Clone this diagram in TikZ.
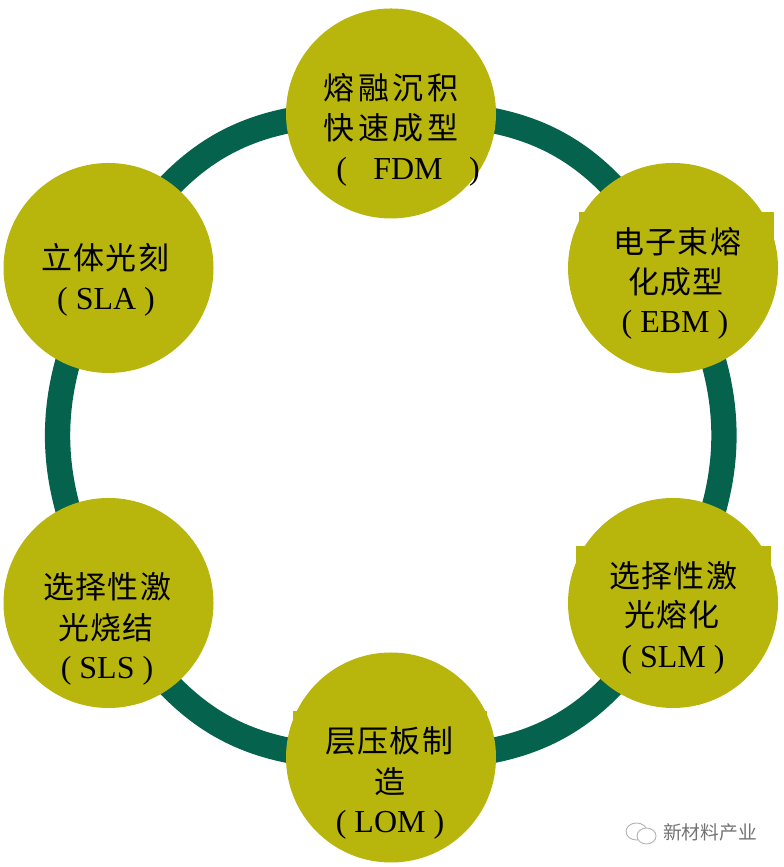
\documentclass[tikz,border=0pt]{standalone}
\usepackage{fontspec}
\setmainfont{Liberation Serif}
\newfontfamily\cjk[LetterSpace=12]{Noto Sans CJK SC}
\newfontfamily\cjknarrow[LetterSpace=4.5]{Noto Sans CJK SC}
\newfontfamily\cjkmark{Noto Sans CJK SC}
\usepackage{tikz}
\usetikzlibrary{backgrounds}
\definecolor{olivefill}{HTML}{B8B50C}
\definecolor{ringgreen}{HTML}{05634D}
\newcommand{\cn}[1]{{\cjk\fontsize{8.8pt}{10pt}\selectfont #1}}
\newcommand{\cnn}[1]{{\cjknarrow\fontsize{8.8pt}{10pt}\selectfont #1}}
\begin{document}
\begin{tikzpicture}[x=1cm,y=1cm,
	roundnode/.style={circle,fill=olivefill,minimum size=2.1cm,inner sep=0pt},
	labelnode/.style={rectangle,inner sep=0pt,font=\fontsize{9.1pt}{10pt}\selectfont},
	ringline/.style={draw=ringgreen,line width=7.2pt,looseness=1.04},
	ringlinelong/.style={ringline,looseness=1.14},
	earbox/.style={fill=olivefill},
	iconline/.style={draw=black!30,line width=0.25pt,fill=white}]
	\useasboundingbox (0,0) rectangle (7.83,8.67);
	
	\node [roundnode] (fdm) at (3.91, 7.535) {};
	\node [roundnode] (ebm) at (6.73, 5.99) {};
	\node [roundnode] (slm) at (6.73, 2.64) {};
	\node [roundnode] (lom) at (3.91, 1.095) {};
	\node [roundnode] (sls) at (1.085, 2.64) {};
	\node [roundnode] (sla) at (1.085, 5.99) {};
	
	\begin{scope}[on background layer]
	\draw [ringlinelong] (fdm.center) to [bend left=30] (ebm.center);
	\draw [ringline] (ebm.center) to [bend left=30] (slm.center);
	\draw [ringlinelong] (slm.center) to [bend left=30] (lom.center);
	\draw [ringlinelong] (lom.center) to [bend left=30] (sls.center);
	\draw [ringline] (sls.center) to [bend left=30] (sla.center);
	\draw [ringlinelong] (sla.center) to [bend left=30] (fdm.center);
	\end{scope}
	
	% square bits left over on three of the circles
	\fill [earbox] (5.79, 6.55) rectangle (7.74, 6.27);
	\fill [earbox] (5.76, 3.21) rectangle (7.71, 2.93);
	\fill [earbox] (2.93, 1.56) rectangle (4.87, 1.42);
	
	\node [labelnode] (t1) at (3.91, 7.79) {\cn{熔融沉积}};
	\node [labelnode] (t2) at (3.91, 7.39) {\cn{快速成型}};
	\node [labelnode] (t3) at (4.08, 6.95) {(\hspace{7.5pt}FDM\hspace{7.5pt})};
	\node [labelnode] (t4) at (6.77, 6.25) {\cnn{电子束熔}};
	\node [labelnode] (t5) at (6.76, 5.85) {\cnn{化成型}};
	\node [labelnode] (t6) at (6.75, 5.42) {( EBM )};
	\node [labelnode] (t7) at (6.73, 2.91) {\cnn{选择性激}};
	\node [labelnode] (t8) at (6.72, 2.52) {\cnn{光熔化}};
	\node [labelnode] (t9) at (6.73, 2.07) {( SLM )};
	\node [labelnode] (t10) at (3.89, 1.26) {\cnn{层压板制}};
	\node [labelnode] (t11) at (3.90, 0.85) {\cnn{造}};
	\node [labelnode] (t12) at (3.90, 0.42) {( LOM )};
	\node [labelnode] (t13) at (1.07, 2.80) {\cnn{选择性激}};
	\node [labelnode] (t14) at (1.06, 2.39) {\cnn{光烧结}};
	\node [labelnode] (t15) at (1.07, 1.96) {( SLS )};
	\node [labelnode] (t16) at (1.05, 6.09) {\cnn{立体光刻}};
	\node [labelnode] (t17) at (1.06, 5.65) {( SLA )};
	
	\draw [iconline] (6.365, 0.355) ellipse (0.105 and 0.085);
	\draw [iconline] (6.465, 0.31) ellipse (0.095 and 0.08);
	\node [labelnode,text=black!55] (mark) at (7.10, 0.35) {\cjkmark\fontsize{5.35pt}{6pt}\selectfont 新材料产业};
\end{tikzpicture}
\end{document}
